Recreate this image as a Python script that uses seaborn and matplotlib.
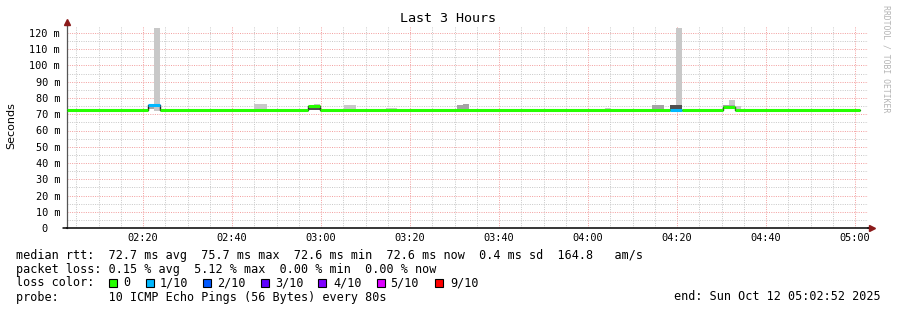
import numpy as np
import pandas as pd
import matplotlib
matplotlib.use("Agg")
import matplotlib.pyplot as plt
import seaborn as sns
from matplotlib.patches import Rectangle

# ---------------- data (time = minutes after 02:00, values in ms) ----------------
x_start, x_end = 2.9, 182.9

# median rtt as a step series (value holds until next time)
med_t = [2.9, 21.1, 23.8, 57.1, 59.8, 138.4, 141.1, 150.3, 153.0, 181.1]
med_v = [72.6, 75.7, 72.6, 74.8, 72.6, 72.6, 72.6, 74.3, 72.6, 72.6]
med_loss = [0, 1, 0, 0, 0, 1, 0, 0, 0, 0]   # index into loss_colors

# smoke (ping spread) blocks
smoke_t0 = [5.2, 22.5, 44.9, 58.5, 65.2, 74.6, 90.6, 92.0, 123.8, 125.1, 134.4, 139.8, 151.6, 153.0, 157.1,
            21.1, 44.9, 65.2, 138.4, 150.3, 57.1]
smoke_t1 = [6.5, 23.8, 47.9, 59.8, 67.9, 77.1, 93.3, 93.3, 125.1, 126.5, 137.1, 141.1, 153.0, 154.4, 158.4,
            22.5, 47.9, 67.9, 141.1, 153.0, 59.8]
smoke_lo = [72.6, 72.3, 72.6, 72.6, 72.6, 72.6, 72.6, 72.6, 72.6, 72.6, 72.6, 75.5, 75.5, 72.6, 72.6,
            73.2, 72.6, 72.6, 72.6, 73.5, 72.6]
smoke_hi = [73.5, 123.0, 76.3, 76.3, 75.5, 73.8, 75.5, 76.3, 74.0, 73.5, 75.7, 123.0, 78.8, 75.0, 73.5,
            75.1, 73.5, 73.5, 75.5, 75.5, 73.8]
smoke_shade = ["light", "light", "light", "light", "light", "light", "mid", "mid", "light", "light", "mid",
               "light", "light", "light", "light",
               "mid", "mid", "mid", "dark", "mid", "dark"]

shade_colors = {"light": "#c8c8c8", "mid": "#a4a4a4", "dark": "#505050"}
loss_labels = ["0", "1/10", "2/10", "3/10", "4/10", "5/10", "9/10"]
loss_colors = ["#26ff00", "#00b8ff", "#0059ff", "#5e00ff", "#7e00ff", "#dd00ff", "#ff0000"]

y_ticks = list(range(0, 121, 10))
y_ticklabels = ["0  "] + [f"{v} m" for v in y_ticks[1:]]
x_ticks = [20, 40, 60, 80, 100, 120, 140, 160, 180]
x_ticklabels = ["02:20", "02:40", "03:00", "03:20", "03:40", "04:00", "04:20", "04:40", "05:00"]

title = "Last 3 Hours"
legend_rows = [
    "median rtt:  72.7 ms avg  75.7 ms max  72.6 ms min  72.6 ms now  0.4 ms sd  164.8   am/s",
    "packet loss: 0.15 % avg  5.12 % max  0.00 % min  0.00 % now",
    "loss color:",
    "probe:       10 ICMP Echo Pings (56 Bytes) every 80s",
]
end_text = "end: Sun Oct 12 05:02:52 2025"
watermark = "RRDTOOL / TOBI OETIKER"

# ---------------- figure ----------------
sns.set_style("white")
plt.rcParams["font.family"] = ["DejaVu Sans Mono", "DejaVu Sans"]

W, H = 897, 310
fig = plt.figure(figsize=(W / 100, H / 100), dpi=100)
fig.patch.set_facecolor("white")

def fx(px):
    return px / W

def fy(py):
    return 1 - py / H

left, right, bottom, top = 67, 868, 228, 25.5
ax = fig.add_axes([fx(left), fy(bottom), fx(right - left), (bottom - top) / H])
ax.set_facecolor("white")
ax.set_xlim(x_start, x_end)
ax.set_ylim(0, (bottom - top) / 1.625)

# grid
ax.set_xticks(x_ticks)
ax.set_xticklabels(x_ticklabels)
ax.set_xticks(np.arange(5, 183, 5), minor=True)
ax.set_yticks(y_ticks)
ax.set_yticklabels(y_ticklabels)
ax.set_yticks(np.arange(5, 121, 10), minor=True)
ax.grid(which="minor", color="#cacaca", linestyle=(0, (1, 1.3)), linewidth=0.72)
ax.grid(which="major", color="#f3a2a2", linestyle=(0, (1, 1.3)), linewidth=0.72)
ax.set_axisbelow(True)
ax.tick_params(which="both", length=0)
ax.tick_params(axis="x", pad=3.5, labelsize=7.4, colors="#000000")
ax.tick_params(axis="y", pad=5, labelsize=7.4, colors="#000000")

for s in ["top", "right"]:
    ax.spines[s].set_visible(False)
ax.spines["left"].set_color("#555555")
ax.spines["left"].set_linewidth(0.9)
ax.spines["bottom"].set_color("#000000")
ax.spines["bottom"].set_linewidth(1.1)

# smoke blocks (lighter first)
order = {"light": 0, "mid": 1, "dark": 2}
idx = sorted(range(len(smoke_t0)), key=lambda i: order[smoke_shade[i]])
for i in idx:
    ax.bar(smoke_t0[i], smoke_hi[i] - smoke_lo[i], width=smoke_t1[i] - smoke_t0[i],
           bottom=smoke_lo[i], align="edge", color=shade_colors[smoke_shade[i]],
           linewidth=0, zorder=2)

# thin dark median line
sns.lineplot(x=med_t, y=med_v, drawstyle="steps-post", color="#202020",
             linewidth=1.0, ax=ax, zorder=3)
# thick loss-coloured median segments
seg_cols = [loss_colors[l] for l in med_loss[:-1]]
ax.hlines(med_v[:-1], med_t[:-1], med_t[1:], colors=seg_cols, linewidth=2.2, zorder=4,
          capstyle="butt")

# axis arrows
ax.plot([0], [1.0 + 3.5 / (bottom - top)], marker="^", color="#8b1a1a", markersize=4,
        transform=ax.transAxes, clip_on=False, zorder=6)
ax.plot([0, 0], [1.0, 1.0 + 3.0 / (bottom - top)], color="#555555", lw=0.9,
        transform=ax.transAxes, clip_on=False)
ax.plot([1.0 + 4.0 / (right - left)], [0], marker=">", color="#8b1a1a", markersize=4,
        transform=ax.transAxes, clip_on=False, zorder=6)
ax.plot([1.0, 1.0 + 3.0 / (right - left)], [0, 0], color="#000000", lw=1.1,
        transform=ax.transAxes, clip_on=False)
ax.plot([-4.0 / (right - left), 0], [0, 0], color="#000000", lw=1.1,
        transform=ax.transAxes, clip_on=False)

# texts
fig.text(fx(448), fy(19), title, ha="center", va="center", fontsize=9.6, color="#000000")
fig.text(fx(11), fy(126), "Seconds", rotation=90, ha="center", va="center",
         fontsize=8, family=["DejaVu Sans"], color="#000000")
fig.text(fx(886), fy(5), watermark, rotation=270, ha="center", va="top",
         fontsize=5.9, color="#b4b4b4")

row_base = [258.5, 272.5, 286.5, 300.5]
for txt, yb in zip(legend_rows, row_base):
    fig.text(fx(16), fy(yb), txt, ha="left", va="baseline", fontsize=8.5, color="#000000")
fig.text(fx(881), fy(row_base[3]), end_text, ha="right", va="baseline", fontsize=8.5,
         color="#000000")

box_x = [109, 146, 203, 261, 318, 377, 435]
lab_x = [123, 160, 217, 275, 333, 390, 450]
for bx, lx, lab, col in zip(box_x, lab_x, loss_labels, loss_colors):
    fig.patches.append(Rectangle((fx(bx), fy(286.5)), 8 / W, 8 / H, transform=fig.transFigure,
                                 facecolor=col, edgecolor="#000000", linewidth=0.8))
    fig.text(fx(lx), fy(row_base[2]), lab, ha="left", va="baseline", fontsize=8.5,
             color="#000000")

fig.savefig("out.png", dpi=100, facecolor="white")
